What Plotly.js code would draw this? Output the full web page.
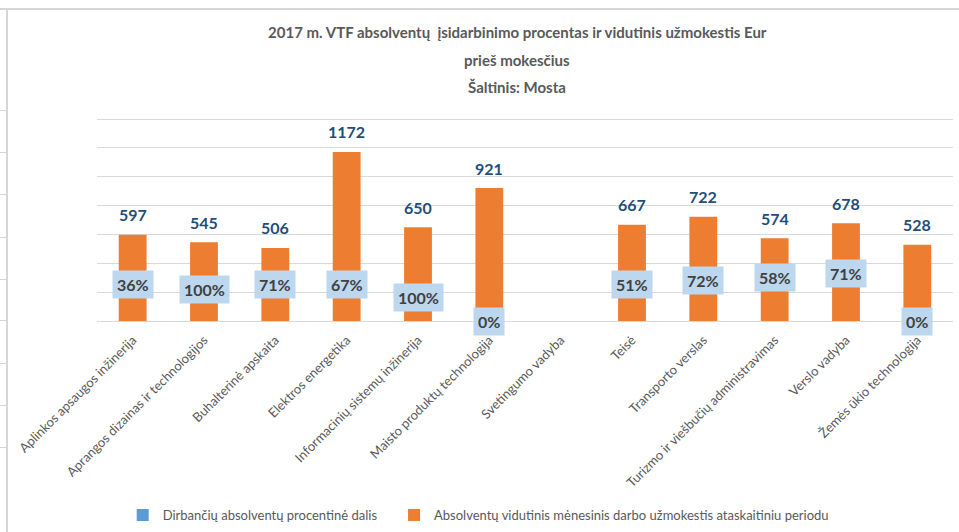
<!DOCTYPE html>
<html>
<head>
<meta charset="utf-8">
<script src="https://cdn.plot.ly/plotly-3.0.1.min.js"></script>
<style>
html,body{margin:0;padding:0;background:#fff;}
#wrap{position:relative;width:959px;height:532px;overflow:hidden;}
#chart{position:absolute;left:0;top:0;width:959px;height:532px;}
.fr{position:absolute;background:#d6d6d6;pointer-events:none;}
</style>
</head>
<body>
<div id="wrap">
<div id="chart"></div>
<div class="fr" style="left:0;top:8px;width:959px;height:2px;"></div>
<div class="fr" style="left:6px;top:8px;width:2px;height:524px;"></div>
<div class="fr" style="left:0;top:110px;width:6px;height:1px;"></div>
<div class="fr" style="left:0;top:152px;width:6px;height:1px;"></div>
<div class="fr" style="left:0;top:194px;width:6px;height:1px;"></div>
<div class="fr" style="left:0;top:237px;width:6px;height:1px;"></div>
<div class="fr" style="left:0;top:279px;width:6px;height:1px;"></div>
<div class="fr" style="left:0;top:320px;width:6px;height:1px;"></div>
<div class="fr" style="left:0;top:363px;width:6px;height:1px;"></div>
<div class="fr" style="left:0;top:405px;width:6px;height:1px;"></div>
<div class="fr" style="left:0;top:447px;width:6px;height:1px;"></div>
</div>
<script>
// ---- data ----
const categories = [
  "Aplinkos apsaugos inžinerija",
  "Aprangos dizainas ir technologijos",
  "Buhalterinė apskaita",
  "Elektros energetika",
  "Informacinių sistemų inžinerija",
  "Maisto produktų technologija",
  "Svetingumo vadyba",
  "Teisė",
  "Transporto verslas",
  "Turizmo ir viešbučių administravimas",
  "Verslo vadyba",
  "Žemės ūkio technologija"
];
const employedShare = [0.36, 1.00, 0.71, 0.67, 1.00, 0.00, null, 0.51, 0.72, 0.58, 0.71, 0.00];
const avgSalary = [597, 545, 506, 1172, 650, 921, null, 667, 722, 574, 678, 528];
const seriesNames = [
  "Dirbančių absolventų procentinė dalis",
  "Absolventų vidutinis mėnesinis darbo užmokestis ataskaitiniu periodu"
];
const titleLines = [
  "2017 m. VTF absolventų  įsidarbinimo procentas ir vidutinis užmokestis Eur",
  "prieš mokesčius",
  "Šaltinis: Mosta"
];
// ---- styling: vertical placement of the percentage label boxes (axis units) ----
const pctLabelPos = [254, 215, 250, 254, 164, 0, null, 254, 284, 300, 326, 0];

const FONT = "Lato, 'Open Sans', sans-serif";
const TITLE_FONT = {family: FONT, size: 15, color: "#595959", weight: "bold"};

const traces = [
  {
    type: "bar", name: seriesNames[0], x: categories, y: employedShare,
    marker: {color: "#5B9BD5"}, width: 0.39, hoverinfo: "skip", legend: "legend"
  },
  {
    type: "bar", name: seriesNames[1], x: categories, y: avgSalary,
    marker: {color: "#ED7D31"}, width: 0.39, legend: "legend2"
  }
];

const annotations = [];
// title lines 2 and 3
titleLines.slice(1).forEach((t, k) => {
  annotations.push({
    xref: "paper", yref: "paper", x: 0.491, y: 1, yanchor: "middle",
    yshift: 117 - 60 - 27 * k, text: t, showarrow: false, font: TITLE_FONT
  });
});
categories.forEach((c, i) => {
  if (avgSalary[i] != null) {
    annotations.push({
      x: c, y: avgSalary[i], xref: "x", yref: "y", text: String(avgSalary[i]),
      showarrow: false, yanchor: "middle", yshift: 20,
      font: {family: FONT, size: 16, color: "#1F4E79", weight: "bold"}
    });
  }
  if (employedShare[i] != null) {
    annotations.push({
      x: c, y: pctLabelPos[i], xref: "x", yref: "y",
      text: Math.round(employedShare[i] * 100) + "%",
      showarrow: false, yanchor: "middle", bgcolor: "#BDD7EE", borderpad: 4,
      font: {family: FONT, size: 16, color: "#404040", weight: "bold"}
    });
  }
});

const legendCommon = {
  orientation: "h", xanchor: "left", yanchor: "middle",
  yref: "container", y: 1 - 515 / 532,
  font: {family: FONT, size: 13, color: "#595959"}, bgcolor: "rgba(0,0,0,0)",
  itemwidth: 30
};

const layout = {
  width: 959, height: 532,
  margin: {l: 97, r: 6, t: 117, b: 211, autoexpand: false},
  paper_bgcolor: "#fff", plot_bgcolor: "#fff",
  barmode: "overlay",
  font: {family: FONT, color: "#595959"},
  title: {
    text: titleLines[0],
    font: TITLE_FONT,
    x: 0.491, xanchor: "center", xref: "paper",
    y: 1 - 33 / 532, yanchor: "middle", yref: "container"
  },
  xaxis: {
    type: "category", tickangle: -45, showline: false, ticks: "",
    tickfont: {family: FONT, size: 13, color: "#595959"},
    ticklabelstandoff: 8, automargin: false,
    range: [-0.5, 11.5], fixedrange: true
  },
  yaxis: {
    range: [0, 1400 * 204 / 202], tickvals: [0, 200, 400, 600, 800, 1000, 1200, 1400],
    showticklabels: false, automargin: false,
    gridcolor: "#D9D9D9", gridwidth: 1, zeroline: true, zerolinecolor: "#D9D9D9",
    zerolinewidth: 1, fixedrange: true
  },
  showlegend: true,
  legend: Object.assign({}, legendCommon, {x: 0.03}),
  legend2: Object.assign({}, legendCommon, {x: 0.347}),
  annotations: annotations
};

Plotly.newPlot("chart", traces, layout, {displayModeBar: false, staticPlot: true});
</script>
</body>
</html>
